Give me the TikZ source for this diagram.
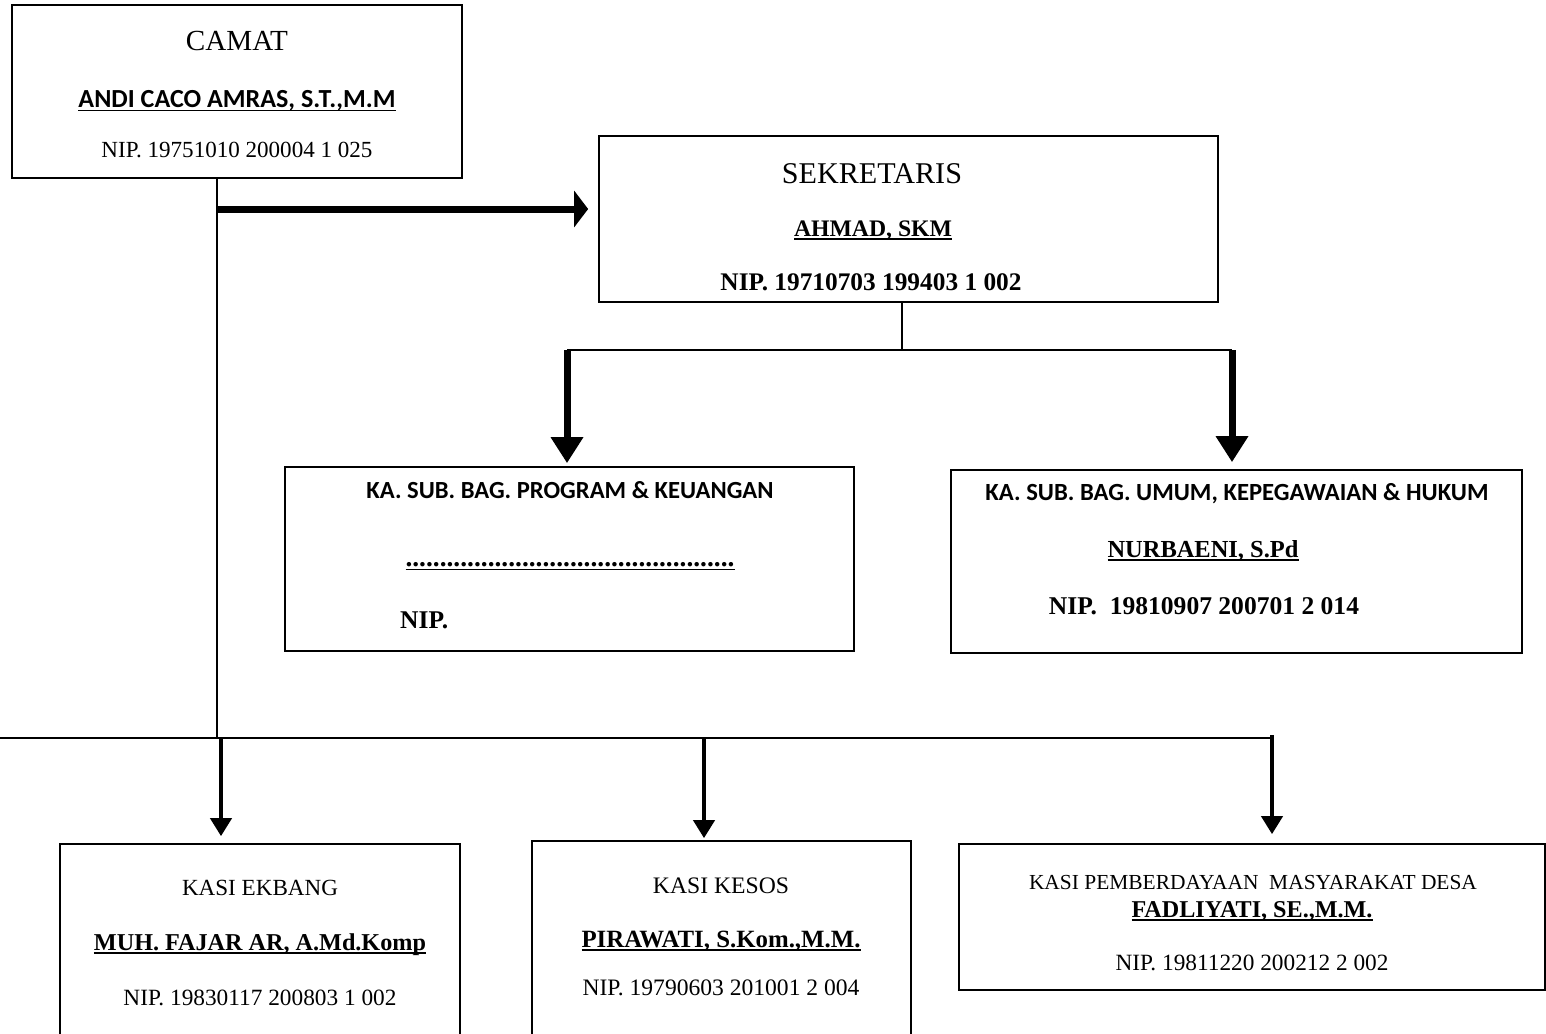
\documentclass[tikz,border=0pt]{standalone}
\usepackage{fontspec}
\setmainfont{Liberation Serif}
\newfontfamily\calib{Carlito}
\usetikzlibrary{arrows.meta}
\newcommand{\fitw}[2]{\resizebox{#1}{!}{#2}}
\newsavebox{\ulbox}
\newcommand{\ulx}[1]{\sbox{\ulbox}{#1}\rlap{\vrule width\wd\ulbox height -0.1em depth 0.16em}\usebox{\ulbox}}
\tikzset{
  orgbox/.style={draw, line width=1.7pt, inner sep=0pt},
  lbl/.style={inner sep=0pt, anchor=base},
  thinline/.style={line width=1.3pt},
  arrowA/.style={line width=7pt, -{Triangle[length=14pt,width=36pt]}},
  arrowB/.style={line width=7pt, -{Triangle[length=26pt,width=31pt]}},
  arrowC/.style={line width=4pt, -{Triangle[length=18pt,width=21pt]}}
}
\begin{document}
\begin{tikzpicture}[x=1pt,y=-1pt]
\useasboundingbox (0,0) rectangle (1546,1033);
\clip (0,0) rectangle (1546,1033);
\fill[white] (0,0) rectangle (1546,1033);

% boxes
\node[orgbox, minimum width=450pt, minimum height=173pt] (camat) at (237,91.5) {};
\node[orgbox, minimum width=619pt, minimum height=166pt] (sek) at (908.5,219) {};
\node[orgbox, minimum width=569pt, minimum height=184pt] (prog) at (569.5,559) {};
\node[orgbox, minimum width=571pt, minimum height=183pt] (umum) at (1236.5,561.5) {};
\node[orgbox, minimum width=400pt, minimum height=220pt] (ekbang) at (260,954) {};
\node[orgbox, minimum width=379pt, minimum height=220pt] (kesos) at (721.5,951) {};
\node[orgbox, minimum width=586pt, minimum height=146pt] (pmd) at (1252,917) {};

% camat texts
\node[lbl] (camatT) at (237,51) {\fitw{102pt}{CAMAT}};
\node[lbl] (camatN) at (237,107) {\fitw{317pt}{\calib\bfseries\ulx{ANDI CACO AMRAS, S.T.,M.M}}};
\node[lbl] (camatP) at (237,157) {\fitw{271pt}{NIP. 19751010 200004 1 025}};

% sekretaris texts
\node[lbl] (sekT) at (872,183) {\fitw{180pt}{SEKRETARIS}};
\node[lbl] (sekN) at (873,236) {\fitw{158pt}{\bfseries\ulx{AHMAD, SKM}}};
\node[lbl] (sekP) at (871,290) {\fitw{301pt}{\bfseries NIP. 19710703 199403 1 002}};

% program texts
\node[lbl] (progT) at (570,498) {\fitw{407pt}{\calib\bfseries KA. SUB. BAG. PROGRAM \& KEUANGAN}};
\node[lbl] (progN) at (570,566) {\fitw{329pt}{\bfseries\ulx{................................................}}};
\node[lbl, anchor=base west] (progP) at (400,628) {\fitw{48pt}{\bfseries NIP.}};

% umum texts
\node[lbl] (umumT) at (1237,500) {\fitw{503pt}{\calib\bfseries KA. SUB. BAG. UMUM, KEPEGAWAIAN \& HUKUM}};
\node[lbl] (umumN) at (1203,557) {\fitw{191pt}{\bfseries\ulx{NURBAENI, S.Pd}}};
\node[lbl] (umumP) at (1204,614) {\fitw{310pt}{\bfseries NIP.\ \ 19810907 200701 2 014}};

% ekbang texts
\node[lbl] (ekbT) at (260,895) {\fitw{156pt}{KASI EKBANG}};
\node[lbl] (ekbN) at (260,950) {\fitw{332pt}{\bfseries\ulx{MUH. FAJAR AR, A.Md.Komp}}};
\node[lbl] (ekbP) at (260,1005) {\fitw{273pt}{NIP. 19830117 200803 1 002}};

% kesos texts
\node[lbl] (kesT) at (721,893) {\fitw{136pt}{KASI KESOS}};
\node[lbl] (kesN) at (721,947) {\fitw{279pt}{\bfseries\ulx{PIRAWATI, S.Kom.,M.M.}}};
\node[lbl] (kesP) at (721,995) {\fitw{277pt}{NIP. 19790603 201001 2 004}};

% pmd texts
\node[lbl] (pmdT) at (1253,889) {\fitw{448pt}{KASI PEMBERDAYAAN\ \ MASYARAKAT DESA}};
\node[lbl] (pmdN) at (1252,917) {\fitw{241pt}{\bfseries\ulx{FADLIYATI, SE.,M.M.}}};
\node[lbl] (pmdP) at (1252,970) {\fitw{273pt}{NIP. 19811220 200212 2 002}};

% connectors
\coordinate (cj) at (217,209);
\coordinate (cb) at (217,738);
\draw[thinline] (camat.south -| cj) -- (cb);
\draw[arrowA, shorten >=10pt] (cj) -- (sek.west |- cj);

\coordinate (sj) at (902,350);
\coordinate (sl) at (567,350);
\coordinate (sr) at (1232,350);
\draw[thinline] (sek.south -| sj) -- (sj);
\draw[thinline] (sl) -- (sr);
\draw[arrowB, shorten >=3pt] (sl) -- (prog.north -| sl);
\draw[arrowB, shorten >=7pt] (sr) -- (umum.north -| sr);

\coordinate (bl) at (0,738);
\coordinate (br) at (1272,738);
\draw[thinline] (bl) -- (br);
\coordinate (a1) at (221,738);
\coordinate (a2) at (704,738);
\coordinate (a3) at (1272,735);
\draw[arrowC, shorten >=7pt] (a1) -- (ekbang.north -| a1);
\draw[arrowC, shorten >=2pt] (a2) -- (kesos.north -| a2);
\draw[arrowC, shorten >=9pt] (a3) -- (pmd.north -| a3);
\end{tikzpicture}
\end{document}
